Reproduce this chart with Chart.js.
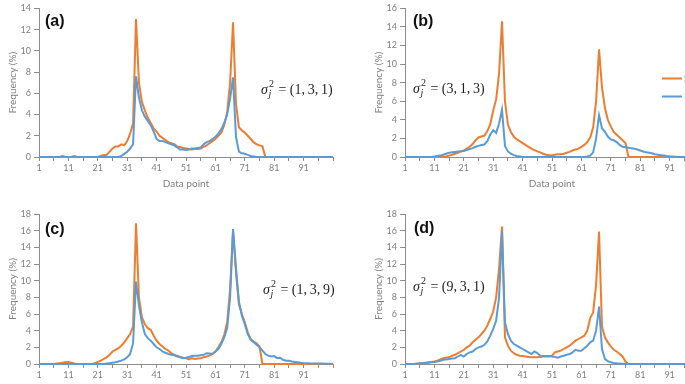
<!DOCTYPE html>
<html>
<head>
<meta charset="utf-8">
<script src="https://cdn.jsdelivr.net/npm/chart.js@4.4.0/dist/chart.umd.min.js"></script>
<style>
  html, body { margin: 0; padding: 0; background: #fff; overflow: hidden; }
  #wrap { position: relative; width: 685px; height: 384px; overflow: hidden; background: #fff; }
  canvas { position: absolute; }
</style>
</head>
<body>
<div id="wrap">
  <canvas id="chartA" width="340" height="195" style="left:0;top:0"></canvas>
  <canvas id="chartB" width="340" height="195" style="left:366px;top:0"></canvas>
  <canvas id="chartC" width="340" height="207" style="left:0;top:195px"></canvas>
  <canvas id="chartD" width="340" height="207" style="left:366px;top:195px"></canvas>
</div>
<script>
// x categories: data point 1..101
const dataPoints = Array.from({ length: 101 }, (_, i) => String(i + 1));

// (a) sigma = (1,3,1)
const orangeA = [
  0,0,0,0,0,0,0,0,0,0,
  0,0,0,0,0,0,0,0,0,0,
  0,0.1,0.2,0.2,0.5,0.8,1.0,1.0,1.2,1.1,
  1.5,2.2,3.2,13.0,7.0,5.2,4.4,3.7,3.2,2.7,
  2.4,2.0,1.8,1.6,1.4,1.3,1.2,1.0,0.95,0.85,
  0.8,0.75,0.7,0.75,0.75,0.8,0.95,1.1,1.3,1.5,
  1.7,2.0,2.3,3.0,4.2,7.0,12.7,5.0,2.8,2.5,
  2.3,2.0,1.7,1.4,1.2,1.1,1.0,0,0,0,
  0,0,0,0,0,0,0,0,0,0,
  0,0,0,0,0,0,0,0,0,0,
  0
];
const blueA = [
  0,0,0,0,0,0,0,0,0.1,0,
  0,0,0.1,0,0,0,0,0,0,0,
  0,0,0,0,0,0,0,0,0.1,0.3,
  0.5,0.8,1.2,7.6,5.6,4.4,3.8,3.4,3.0,2.4,
  1.7,1.5,1.5,1.4,1.3,1.2,1.1,0.9,0.7,0.7,
  0.65,0.7,0.8,0.8,0.85,0.9,1.2,1.4,1.5,1.7,
  1.9,2.2,2.6,3.2,4.0,5.5,7.5,1.9,0.5,0.35,
  0.3,0.2,0.1,0.05,0,0,0,0,0,0,
  0,0,0,0,0,0,0,0,0,0,
  0,0,0,0,0,0,0,0,0,0,
  0
];

// (b) sigma = (3,1,3)
const orangeB = [
  0,0,0,0,0,0,0,0,0,0,
  0,0,0,0,0.05,0.15,0.25,0.35,0.45,0.6,
  0.7,0.9,1.1,1.4,1.8,2.1,2.2,2.3,2.8,3.5,
  5.0,6.2,9.0,14.6,6.0,3.5,2.7,2.2,1.9,1.7,
  1.5,1.3,1.1,0.9,0.75,0.6,0.5,0.35,0.25,0.2,
  0.2,0.25,0.3,0.3,0.35,0.45,0.55,0.7,0.8,0.9,
  1.1,1.3,1.6,2.1,3.2,6.0,11.6,7.5,5.3,4.0,
  3.3,2.7,2.4,2.1,1.8,1.5,0,0,0,0,
  0,0,0,0,0,0,0,0,0,0,
  0,0,0,0,0,0,0,0,0,0,
  0
];
const blueB = [
  0,0,0,0,0,0,0,0,0,0,
  0.05,0.1,0.15,0.25,0.35,0.45,0.5,0.55,0.6,0.62,
  0.65,0.75,0.85,0.95,1.1,1.2,1.3,1.35,1.7,2.4,
  2.9,2.6,3.6,5.1,1.2,0.6,0.35,0.2,0.1,0.05,
  0,0,0,0,0,0,0,0,0,0,
  0,0,0,0,0,0,0,0,0,0,
  0,0,0.05,0.15,0.5,2.0,4.5,3.1,2.7,2.2,
  1.9,1.8,1.6,1.3,1.1,1.05,1.0,0.95,0.9,0.8,
  0.7,0.6,0.5,0.45,0.4,0.3,0.25,0.2,0.15,0.1,
  0.07,0.05,0.03,0,0,0,0,0,0,0,
  0
];

// (c) sigma = (1,3,9)
const orangeC = [
  0,0,0,0,0,0,0.05,0.1,0.15,0.2,
  0.25,0.15,0.05,0,0,0,0,0,0,0.1,
  0.25,0.4,0.6,0.8,1.1,1.5,1.7,1.9,2.2,2.6,
  3.1,3.6,4.5,16.9,8.0,5.6,4.8,4.3,4.1,3.4,
  2.8,2.4,2.1,1.8,1.6,1.3,1.1,0.9,0.85,0.75,
  0.7,0.55,0.7,0.6,0.65,0.7,0.8,0.9,1.0,1.2,
  1.5,2.0,2.6,3.5,5.0,9.0,16.0,11.0,7.2,6.0,
  5.0,3.8,3.0,2.7,2.5,2.1,0,0,0,0,
  0,0,0,0,0,0,0,0,0,0,
  0,0,0,0,0,0,0,0,0,0,
  0
];
const blueC = [
  0,0,0,0,0,0,0,0,0,0,
  0,0,0,0,0,0,0,0,0,0,
  0,0,0,0.05,0.1,0.15,0.2,0.3,0.4,0.55,
  0.8,1.2,2.5,9.9,7.0,5.0,3.6,3.1,2.8,2.4,
  2.0,1.8,1.5,1.35,1.2,1.1,1.05,1.0,0.8,0.7,
  0.75,0.85,0.95,1.0,1.0,1.05,1.1,1.3,1.25,1.2,
  1.5,1.8,2.4,3.2,4.3,8.0,16.2,11.5,7.5,5.8,
  4.8,3.6,2.9,2.6,2.3,2.0,1.6,1.2,1.0,0.9,
  0.95,0.7,0.75,0.5,0.4,0.4,0.3,0.25,0.2,0.15,
  0.12,0.1,0.08,0.07,0.05,0.05,0.06,0.04,0.03,0.02,
  0
];

// (d) sigma = (9,3,1)
const orangeD = [
  0,0,0,0,0,0.05,0.1,0.15,0.2,0.25,
  0.3,0.4,0.55,0.7,0.75,0.8,1.0,1.1,1.3,1.5,
  1.7,2.0,2.2,2.6,2.9,3.2,3.6,4.0,4.6,5.4,
  6.3,8.0,11.5,16.5,3.2,2.2,1.6,1.3,1.1,1.0,
  0.95,0.9,0.85,0.8,0.8,0.8,0.85,0.9,0.9,0.9,
  1.0,1.4,1.5,1.6,1.8,2.0,2.2,2.5,2.8,3.0,
  3.2,3.4,4.0,5.5,6.2,9.5,15.9,4.5,3.2,2.6,
  2.1,1.7,1.5,1.2,0.9,0.3,0,0,0,0,
  0,0,0,0,0,0,0,0,0,0,
  0,0,0,0,0,0,0,0,0,0,
  0
];
const blueD = [
  0,0,0,0,0.05,0.08,0.1,0.12,0.15,0.2,
  0.25,0.3,0.4,0.5,0.55,0.6,0.65,0.7,0.9,1.1,
  0.9,1.2,1.4,1.5,1.8,2.0,2.1,2.3,2.7,3.4,
  4.2,5.2,8.0,15.9,5.0,3.6,2.8,2.4,2.2,2.0,
  1.8,1.6,1.4,1.2,1.5,1.3,1.0,0.95,0.95,0.95,
  0.9,0.85,0.75,0.9,1.0,1.1,1.2,1.4,1.7,1.6,
  1.6,1.9,2.2,2.6,2.8,4.0,6.9,1.8,0.6,0.35,
  0.2,0.12,0.08,0.05,0.03,0,0,0,0,0,
  0,0,0,0,0,0,0,0,0,0,
  0,0,0,0,0,0,0,0,0,0,
  0
];

const seriesNames = ['Simulation', 'Estimation'];

const ORANGE = '#ED7D31';
const BLUE = '#5B9BD5';
const AXIS = '#8c8c8c';
const TEXT = '#808080';
const FONT = 'Lato';

// draws panel letter, sigma annotation and (for b) the legend
const panelText = {
  id: 'panelText',
  afterDraw(chart, args, o) {
    const ctx = chart.ctx;
    ctx.save();
    ctx.fillStyle = '#111';
    ctx.textBaseline = 'middle';
    ctx.textAlign = 'left';
    ctx.font = 'bold 16px "Liberation Sans"';
    ctx.fillText(o.letter, o.letterX, o.letterY);

    // sigma_j^2 = (...)
    let x = o.sigX, y = o.sigY;
    ctx.fillStyle = '#1f1f1f';
    ctx.font = 'italic 14px "Liberation Serif"';
    ctx.fillText('\u03C3', x, y);
    x += ctx.measureText('\u03C3').width;
    ctx.font = 'italic 10px "Liberation Serif"';
    ctx.fillText('j', x + 0.5, y + 4);
    ctx.font = '10px "Liberation Serif"';
    ctx.fillText('2', x + 1, y - 6);
    x += 7;
    ctx.font = '14px "Liberation Serif"';
    ctx.fillText(' = (' + o.sig.join(',\u2009') + ')', x, y);

    if (o.legend) {
      ctx.lineWidth = 2;
      const items = [[ORANGE, seriesNames[0], 78.5], [BLUE, seriesNames[1], 96.5]];
      items.forEach(([c, name, ly]) => {
        ctx.strokeStyle = c;
        ctx.beginPath();
        ctx.moveTo(296, ly);
        ctx.lineTo(316, ly);
        ctx.stroke();
        ctx.fillStyle = '#595959';
        ctx.font = '10px ' + FONT;
        ctx.fillText(name, 318, ly);
      });
    }
    ctx.restore();
  }
};

function makeChart(id, orange, blue, yMax, topPad, text) {
  const el = document.getElementById(id);
  return new Chart(el.getContext('2d'), {
    type: 'line',
    data: {
      labels: dataPoints,
      datasets: [
        { label: seriesNames[1], data: blue, borderColor: BLUE, borderWidth: 2,
          pointRadius: 0, tension: 0, fill: false, clip: false },
        { label: seriesNames[0], data: orange, borderColor: ORANGE, borderWidth: 2,
          pointRadius: 0, tension: 0, fill: false, clip: false }
      ]
    },
    options: {
      responsive: false,
      animation: false,
      devicePixelRatio: 1,
      layout: { padding: { top: topPad, left: 0, right: 7, bottom: 0 } },
      plugins: {
        legend: { display: false },
        tooltip: { enabled: false },
        panelText: text
      },
      scales: {
        x: {
          type: 'category',
          offset: false,
          grid: {
            drawOnChartArea: false,
            drawTicks: true,
            tickLength: 4,
            color: c => (c.index % 5 === 0 ? AXIS : 'rgba(0,0,0,0)')
          },
          border: { color: AXIS, width: 1 },
          ticks: {
            autoSkip: false,
            maxRotation: 0,
            padding: 2,
            color: TEXT,
            font: { family: FONT, size: 9 },
            callback: (v, i) => (i % 10 === 0 && i < 100 ? dataPoints[i] : '')
          },
          title: {
            display: true, text: 'Data point', color: TEXT,
            font: { family: FONT, size: 10 }, padding: { top: 0, bottom: 5 }
          },
          afterFit: s => { s.height = 38; }
        },
        y: {
          min: 0,
          max: yMax,
          grid: { drawOnChartArea: false, drawTicks: true, tickLength: 5, color: AXIS },
          border: { color: AXIS, width: 1 },
          ticks: {
            stepSize: 2, padding: 3, color: TEXT,
            font: { family: FONT, size: 9 }
          },
          title: {
            display: true, text: 'Frequency (%)', color: TEXT,
            font: { family: FONT, size: 10 }, padding: { top: 7, bottom: 0 }
          },
          afterFit: s => { s.width = 39; }
        }
      }
    },
    plugins: [panelText]
  });
}

makeChart('chartA', orangeA, blueA, 14, 8,
  { letter: '(a)', letterX: 45, letterY: 22, sig: [1, 3, 1], sigX: 261, sigY: 90 });
makeChart('chartB', orangeB, blueB, 16, 7.3,
  { letter: '(b)', letterX: 47, letterY: 22, sig: [3, 1, 3], sigX: 47, sigY: 89, legend: true });
makeChart('chartC', orangeC, blueC, 18, 19,
  { letter: '(c)', letterX: 45, letterY: 35, sig: [1, 3, 9], sigX: 263, sigY: 95 });
makeChart('chartD', orangeD, blueD, 18, 19,
  { letter: '(d)', letterX: 48, letterY: 34, sig: [9, 3, 1], sigX: 47, sigY: 92 });
</script>
</body>
</html>
